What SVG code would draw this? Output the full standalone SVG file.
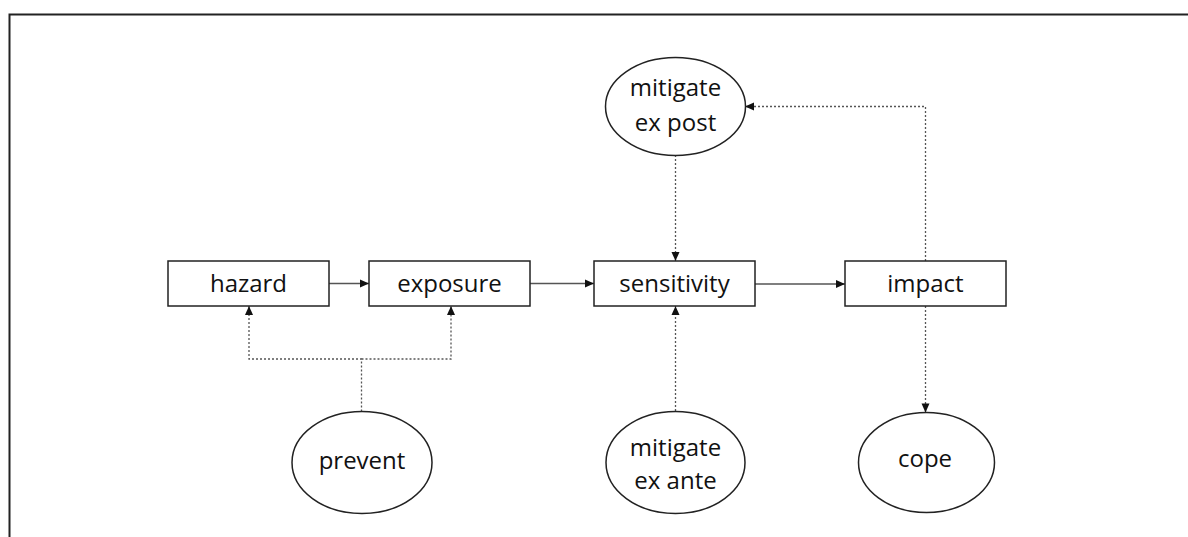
<svg xmlns="http://www.w3.org/2000/svg" width="1188" height="537" viewBox="0 0 1188 537">
<style>
.box{fill:#fff;stroke:#222;stroke-width:1.5}
.ell{fill:#fff;stroke:#222;stroke-width:1.5}
.t{font-family:"Open Sans","Noto Sans","Liberation Sans",sans-serif;font-size:24px;fill:#111;text-anchor:middle}
.solid{fill:none;stroke:#555;stroke-width:1.3}
.dot{fill:none;stroke:#555;stroke-width:1.3;stroke-dasharray:2 2}
</style>
<defs>
<marker id="ah" markerUnits="userSpaceOnUse" markerWidth="11" markerHeight="11" viewBox="0 0 11 11" refX="10" refY="5.5" orient="auto">
<path d="M1,1.5 L10,5.5 L1,9.5 Z" fill="#111"/>
</marker>
</defs>
<rect width="1188" height="537" fill="#fff"/>
<g id="frame">
<path d="M9.5,537 L9.5,14.5 L1188,14.5" fill="none" stroke="#222" stroke-width="2"/>
</g>
<g id="connectors">
<path class="solid" d="M329,283.5 L369,283.5" marker-end="url(#ah)"/>
<path class="solid" d="M530,283.5 L594,283.5" marker-end="url(#ah)"/>
<path class="solid" d="M755,284 L845,284" marker-end="url(#ah)"/>
<path class="dot" d="M675.5,155 L675.5,261" marker-end="url(#ah)"/>
<path class="dot" d="M675.5,411 L675.5,306" marker-end="url(#ah)"/>
<path class="dot" d="M925.5,261 L925.5,106.5 L745,106.5" marker-end="url(#ah)"/>
<path class="dot" d="M925.5,306 L925.5,412.5" marker-end="url(#ah)"/>
<path class="dot" d="M361.5,411.5 L361.5,359 L249,359 L249,306" marker-end="url(#ah)"/>
<path class="dot" d="M361.5,359 L451,359 L451,306" marker-end="url(#ah)"/>
</g>
<g id="hazard">
<rect class="box" x="168" y="261" width="161" height="45"/>
<text class="t" x="248.5" y="292">hazard</text>
</g>
<g id="exposure">
<rect class="box" x="369" y="261" width="161" height="45"/>
<text class="t" x="449.5" y="292">exposure</text>
</g>
<g id="sensitivity">
<rect class="box" x="594" y="261" width="161" height="45"/>
<text class="t" x="674.5" y="292">sensitivity</text>
</g>
<g id="impact">
<rect class="box" x="845" y="261" width="161" height="45"/>
<text class="t" x="925.5" y="292">impact</text>
</g>
<g id="mitigate-ex-post">
<ellipse class="ell" cx="675.5" cy="106.5" rx="70" ry="49"/>
<text class="t" x="675.5" y="96">mitigate</text>
<text class="t" x="675.5" y="131">ex post</text>
</g>
<g id="mitigate-ex-ante">
<ellipse class="ell" cx="675.5" cy="462.5" rx="69.5" ry="51"/>
<text class="t" x="675.5" y="455.5">mitigate</text>
<text class="t" x="675.5" y="488.5">ex ante</text>
</g>
<g id="prevent">
<ellipse class="ell" cx="362" cy="462.5" rx="70" ry="51"/>
<text class="t" x="362" y="469">prevent</text>
</g>
<g id="cope">
<ellipse class="ell" cx="926.5" cy="462.5" rx="68" ry="50"/>
<text class="t" x="925" y="467">cope</text>
</g>
</svg>
